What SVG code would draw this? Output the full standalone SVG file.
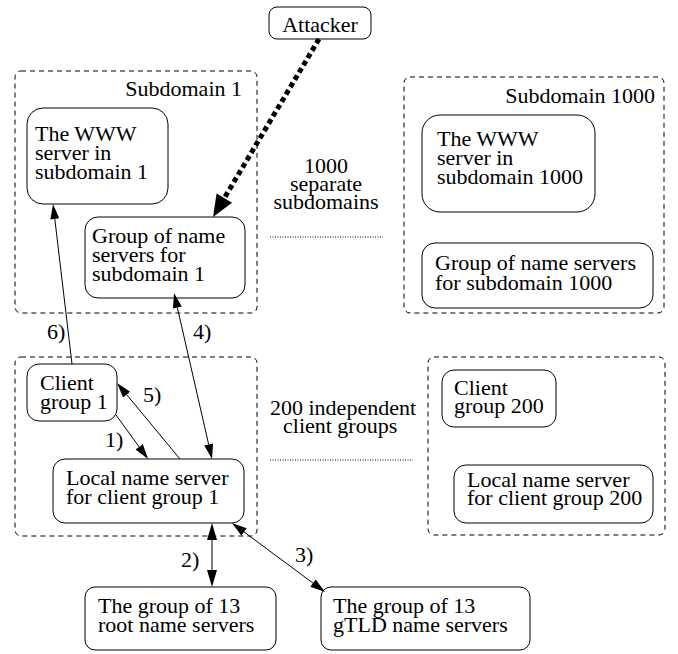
<svg xmlns="http://www.w3.org/2000/svg" width="678" height="654" viewBox="0 0 678 654">
<style>
text { font-family: "Liberation Serif", "Times New Roman", serif; font-size: 22px; fill: #000; }
.box { fill: #fff; stroke: #000; stroke-width: 1; }
.group { fill: none; stroke: #000; stroke-width: 1; stroke-dasharray: 5 4; }
.dots { fill: none; stroke: #000; stroke-width: 1; stroke-dasharray: 1 1.5; }
.conn { fill: none; stroke: #000; stroke-width: 1; }
.attack { fill: none; stroke: #000; stroke-width: 5; stroke-dasharray: 5 3.5; }
.end { text-anchor: end; }
.mid { text-anchor: middle; }
</style>
<defs>
<marker id="ah" markerUnits="userSpaceOnUse" markerWidth="15" markerHeight="9" refX="0" refY="4.5" orient="auto-start-reverse" overflow="visible">
<path d="M0,0 L15,4.5 L0,9 Z" fill="#000"/>
</marker>
<marker id="ahl" markerUnits="userSpaceOnUse" markerWidth="17" markerHeight="10" refX="0" refY="5" orient="auto-start-reverse" overflow="visible">
<path d="M0,0 L17,5 L0,10 Z" fill="#000"/>
</marker>
<marker id="ahb" markerUnits="userSpaceOnUse" markerWidth="22" markerHeight="18" refX="0" refY="9" orient="auto" overflow="visible">
<path d="M0,0 L22,9 L0,18 Z" fill="#000"/>
</marker>
</defs>

<g id="subdomain1">
<rect class="group" x="15" y="71" width="242" height="242" rx="6"/>
<text class="end" x="242" y="96">Subdomain 1</text>
</g>
<g id="www1">
<rect class="box" x="27" y="108" width="141" height="96" rx="16"/>
<text x="35" y="141">The WWW</text>
<text x="35" y="160">server in</text>
<text x="35" y="179">subdomain 1</text>
</g>
<g id="ns1">
<rect class="box" x="85" y="217" width="160" height="81" rx="13"/>
<text x="92" y="243">Group of name</text>
<text x="92" y="262">servers for</text>
<text x="92" y="281">subdomain 1</text>
</g>

<g id="sep-subdomains">
<text class="mid" x="326" y="173">1000</text>
<text class="mid" x="326" y="191">separate</text>
<text class="mid" x="326" y="209">subdomains</text>
<line class="dots" x1="270" y1="237" x2="383" y2="237"/>
</g>

<g id="subdomain1000">
<rect class="group" x="404" y="77" width="260" height="236" rx="6"/>
<text class="end" x="655" y="103">Subdomain 1000</text>
</g>
<g id="www1000">
<rect class="box" x="422" y="115" width="173" height="97" rx="18"/>
<text x="437" y="146">The WWW</text>
<text x="437" y="165">server in</text>
<text x="437" y="184">subdomain 1000</text>
</g>
<g id="ns1000">
<rect class="box" x="422" y="243" width="231" height="65" rx="13"/>
<text x="435" y="270">Group of name servers</text>
<text x="435" y="290">for subdomain 1000</text>
</g>

<g id="attacker">
<rect class="box" x="269" y="7" width="102" height="32" rx="8"/>
<text class="mid" x="320" y="32">Attacker</text>
</g>

<g id="clients1">
<rect class="group" x="15" y="357" width="242" height="179" rx="6"/>
</g>
<g id="client1">
<rect class="box" x="27" y="364" width="90" height="57" rx="12"/>
<text x="40" y="390">Client</text>
<text x="40" y="409">group 1</text>
</g>
<g id="local1">
<rect class="box" x="53" y="459" width="191" height="64" rx="12"/>
<text x="66" y="485">Local name server</text>
<text x="66" y="504">for client group 1</text>
</g>

<g id="sep-clients">
<text x="270" y="415">200 independent</text>
<text x="283" y="433">client groups</text>
<line class="dots" x1="270" y1="460" x2="413" y2="460"/>
</g>

<g id="clients200">
<rect class="group" x="428" y="357" width="237" height="178" rx="6"/>
</g>
<g id="client200">
<rect class="box" x="442" y="370" width="114" height="57" rx="12"/>
<text x="454" y="395">Client</text>
<text x="454" y="413">group 200</text>
</g>
<g id="local200">
<rect class="box" x="454" y="465" width="199" height="58" rx="12"/>
<text x="467" y="487">Local name server</text>
<text x="467" y="505">for client group 200</text>
</g>

<g id="root">
<rect class="box" x="85" y="587" width="191" height="63" rx="10"/>
<text x="98" y="613">The group of 13</text>
<text x="98" y="632">root name servers</text>
</g>
<g id="gtld">
<rect class="box" x="321" y="587" width="209" height="63" rx="10"/>
<text x="333" y="613">The group of 13</text>
<text x="333" y="632">gTLD name servers</text>
</g>

<g id="connectors">
<line class="attack" x1="319" y1="39" x2="224.3" y2="198.1" marker-end="url(#ahb)"/>
<line class="conn" x1="72" y1="364" x2="54.8" y2="218.9" marker-end="url(#ah)"/>
<line class="conn" x1="177.35" y1="307.6" x2="208.65" y2="444.4" marker-start="url(#ah)" marker-end="url(#ah)"/>
<line class="conn" x1="180" y1="459" x2="126.6" y2="394.6" marker-end="url(#ah)"/>
<line class="conn" x1="116" y1="415" x2="139.2" y2="446.9" marker-end="url(#ah)"/>
<line class="conn" x1="212" y1="540" x2="212" y2="570" marker-start="url(#ahl)" marker-end="url(#ahl)"/>
<line class="conn" x1="244" y1="531.9" x2="313" y2="583.1" marker-start="url(#ah)" marker-end="url(#ah)"/>
<text x="47" y="339">6)</text>
<text x="193" y="339">4)</text>
<text x="143" y="402">5)</text>
<text x="105" y="447">1)</text>
<text x="181" y="567">2)</text>
<text x="295" y="562">3)</text>
</g>
</svg>
